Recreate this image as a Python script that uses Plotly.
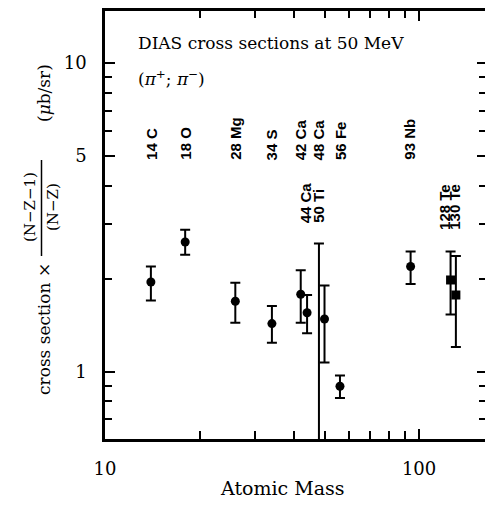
import numpy as np
import plotly.graph_objects as go

# ---------------- data ----------------
mass = [14, 18, 26, 34, 42, 44, 48, 50, 56, 94]
xsec = [1.95, 2.63, 1.69, 1.43, 1.78, 1.55, 0.45, 1.48, 0.896, 2.19]
xsec_hi = [2.19, 2.88, 1.94, 1.63, 2.13, 1.77, 2.60, 1.90, 0.97, 2.45]
xsec_lo = [1.70, 2.39, 1.44, 1.24, 1.44, 1.33, 0.45, 1.07, 0.82, 1.92]

te_mass = [126, 131]
te_xsec = [1.98, 1.77]
te_hi = [2.45, 2.37]
te_lo = [1.53, 1.20]

top_labels = ["14 C", "18 O", "28 Mg", "34 S", "42 Ca", "48 Ca", "56 Fe", "93 Nb"]
top_label_mass = [14, 18, 26, 34, 42, 48, 56, 93]
low_labels = ["44 Ca", "50 Ti", "128 Te", "130 Te"]
low_label_mass = [43.6, 47.6, 120, 129]

x_ticks = [10, 100]
x_minor = [20, 30, 40, 50, 60, 70, 80, 90]
y_ticks = [1, 5, 10]
y_minor = [0.7, 0.8, 0.9, 2, 3, 4, 6, 7, 8, 9]

# ---------------- layout geometry ----------------
W, H = 485, 527
L, R, T, B = 105, 0, 11, 88
PW, PH = W - L - R, H - T - B
XR = [1.0, 2.21]
YR = [-0.2188, 1.1686]

def pxx(px):
    return (px - L) / PW

def pxy(py):
    return (H - B - py) / PH

def y_at(py):
    # log10 value at pixel row py
    return YR[0] + (H - B - py) / PH * (YR[1] - YR[0])

serif = "DejaVu Serif"
sans = "Liberation Sans"

fig = go.Figure()

v = np.array(xsec); hi = np.array(xsec_hi); lo = np.array(xsec_lo)
fig.add_trace(go.Scatter(
    x=mass, y=xsec, mode="markers",
    marker=dict(symbol="circle", size=9, color="black"),
    error_y=dict(type="data", symmetric=False, array=hi - v, arrayminus=v - lo,
                 color="black", thickness=2, width=5),
    showlegend=False, cliponaxis=True))

tv = np.array(te_xsec); thi = np.array(te_hi); tlo = np.array(te_lo)
fig.add_trace(go.Scatter(
    x=te_mass, y=te_xsec, mode="markers",
    marker=dict(symbol="square", size=9, color="black"),
    error_y=dict(type="data", symmetric=False, array=thi - tv, arrayminus=tv - tlo,
                 color="black", thickness=2, width=5),
    showlegend=False, cliponaxis=True))

# invisible trace for mirrored axes
fig.add_trace(go.Scatter(x=[20], y=[2], xaxis="x2", yaxis="y2", mode="markers",
                         marker=dict(opacity=0), showlegend=False, hoverinfo="skip"))

common = dict(showgrid=False, zeroline=False, linecolor="black", tickcolor="black",
              ticks="inside", tickwidth=2, tickmode="array")

fig.update_layout(
    width=W, height=H, margin=dict(l=L, r=R, t=T, b=B),
    paper_bgcolor="white", plot_bgcolor="white",
    xaxis=dict(type="log", range=XR, showline=True, linewidth=2.5,
               tickvals=x_ticks, ticktext=[str(t) for t in x_ticks], ticklen=10,
               minor=dict(tickmode="array", tickvals=x_minor, ticks="inside", ticklen=8,
                          tickwidth=2, tickcolor="black", showgrid=False),
               tickfont=dict(family=serif, size=18, color="black"),
               ticklabelstandoff=12, **common),
    yaxis=dict(type="log", range=YR, showline=True, linewidth=2.5,
               tickvals=y_ticks, ticktext=[str(t) for t in y_ticks], ticklen=10,
               minor=dict(tickmode="array", tickvals=y_minor, ticks="inside", ticklen=7,
                          tickwidth=2, tickcolor="black", showgrid=False),
               tickfont=dict(family=serif, size=18, color="black"),
               ticklabelstandoff=12, **common),
    xaxis2=dict(type="log", range=XR, overlaying="x", side="top", anchor="y2",
                showline=True, linewidth=2.5, showticklabels=False,
                tickvals=x_ticks, ticklen=10,
                minor=dict(tickmode="array", tickvals=x_minor, ticks="inside", ticklen=7,
                           tickwidth=2, tickcolor="black", showgrid=False),
                **common),
    yaxis2=dict(type="log", range=YR, overlaying="y", side="right", anchor="x2",
                showline=False, showticklabels=False,
                tickvals=y_ticks, ticklen=8,
                minor=dict(tickmode="array", tickvals=y_minor, ticks="inside", ticklen=6,
                           tickwidth=2, tickcolor="black", showgrid=False),
                **common),
)

ann = []
# nuclide labels
for lab, m in zip(top_labels, top_label_mass):
    ann.append(dict(x=np.log10(m), y=y_at(162), xref="x", yref="y", text=lab,
                    textangle=-90, showarrow=False, xanchor="center", yanchor="bottom",
                    font=dict(family=sans, size=15, color="black", weight="bold")))
for lab, m, py in zip(low_labels, low_label_mass, [225, 225, 232, 232]):
    ann.append(dict(x=np.log10(m), y=y_at(py), xref="x", yref="y", text=lab,
                    textangle=-90, showarrow=False, xanchor="center", yanchor="bottom",
                    font=dict(family=sans, size=15, color="black", weight="bold")))

# in-plot text
ann.append(dict(x=pxx(136), y=pxy(43), xref="paper", yref="paper",
                text="DIAS cross sections at 50 MeV", showarrow=False,
                xanchor="left", yanchor="middle",
                font=dict(family=serif, size=17, color="black")))
ann.append(dict(x=pxx(136), y=pxy(78), xref="paper", yref="paper",
                text="(<i>π</i><sup>+</sup>; <i>π</i><sup>−</sup>)", showarrow=False,
                xanchor="left", yanchor="middle",
                font=dict(family=serif, size=17, color="black")))

# x title
ann.append(dict(x=pxx(282), y=pxy(488), xref="paper", yref="paper",
                text="Atomic Mass", showarrow=False, xanchor="center", yanchor="middle",
                font=dict(family=serif, size=19, color="black")))

# y title pieces (rotated)
ann.append(dict(x=pxx(44), y=pxy(397), xref="paper", yref="paper",
                text="cross section ×", textangle=-90, showarrow=False,
                xanchor="center", yanchor="bottom",
                font=dict(family=serif, size=17, color="black")))
ann.append(dict(x=pxx(30), y=pxy(207), xref="paper", yref="paper",
                text="(N−Z−1)", textangle=-90, showarrow=False,
                xanchor="center", yanchor="middle",
                font=dict(family=serif, size=15, color="black")))
ann.append(dict(x=pxx(53), y=pxy(207), xref="paper", yref="paper",
                text="(N−Z)", textangle=-90, showarrow=False,
                xanchor="center", yanchor="middle",
                font=dict(family=serif, size=15, color="black")))
ann.append(dict(x=pxx(44), y=pxy(93), xref="paper", yref="paper",
                text="(<i>μ</i>b/sr)", textangle=-90, showarrow=False,
                xanchor="center", yanchor="middle",
                font=dict(family=serif, size=17, color="black")))

fig.update_layout(annotations=ann)
fig.add_shape(type="line", xref="paper", yref="paper",
              x0=pxx(41.5), x1=pxx(41.5), y0=pxy(160), y1=pxy(256),
              line=dict(color="black", width=1.5))

fig.write_html("out.html")
